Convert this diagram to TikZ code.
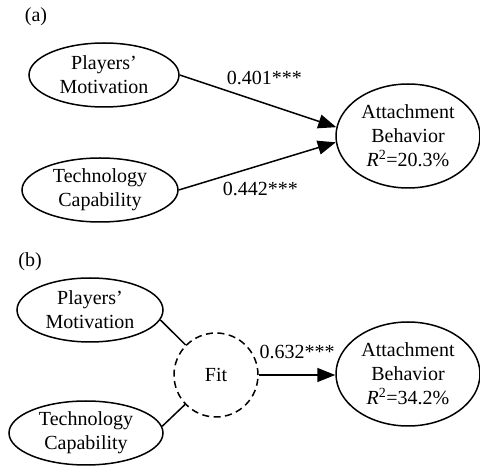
\documentclass[tikz,border=0pt]{standalone}
\usepackage{fontspec}
\setmainfont{Liberation Serif}
\usepackage{tikz}
\usetikzlibrary{arrows.meta,shapes}

\begin{document}
\begin{tikzpicture}[
			x = 1pt, y = -1pt,
			font=\fontsize{20}{24}\selectfont,
			post/.style={->,shorten >=0pt,>={Triangle[length=18pt,width=14pt]},line width=1.5pt},
			link/.style={-,line width=1.5pt},
		construct/.style={ellipse,draw,line width=1.5pt,inner sep=0pt,align=center,minimum width=150pt,minimum height=64pt},
		outcome/.style={construct,minimum width=144pt,minimum height=104pt},
		fitnode/.style={circle,draw,dash pattern=on 7pt off 4.5pt,line width=1.5pt,minimum size=84pt,inner sep=0pt}]

		\useasboundingbox (0,0) rectangle (480,470);

		\node (panela) at (36,17) {(a)};
		\node[construct]  (PMa) at (104,75) {Players’\\Motivation};
		\node[construct, minimum width=156pt]  (TCa) at (100,190) {Technology\\Capability};
		\node[outcome]  (ABa) at (408,136) {Attachment\\Behavior\\\textit{R}\textsuperscript{2}=20.3\%};
		\draw[post] (PMa.east) -- node [above=14pt, pos=.54] {0.401***} (ABa.173);
		\draw[post] (TCa.east) -- node [below=13pt, pos=.52] {0.442***} (ABa.185);

		\node (panelb) at (30,262) {(b)};
		\node[construct, minimum width=146pt]  (PMb) at (90,310) {Players’\\Motivation};
		\node[construct, minimum width=154pt]  (TCb) at (86,433) {Technology\\Capability};
		\node[fitnode]  (fitb) at (216,375) {Fit};
		\node[outcome]  (ABb) at (408,374) {Attachment\\Behavior\\\textit{R}\textsuperscript{2}=34.2\%};
		\draw[link] (PMb.-8) -- (fitb);
		\draw[link] (TCb.5) -- (fitb);
		\draw[post] (fitb.east) -- node [above=12pt, pos=.5] {0.632***} (fitb.east -| ABb.west);
	\end{tikzpicture}
\end{document}
